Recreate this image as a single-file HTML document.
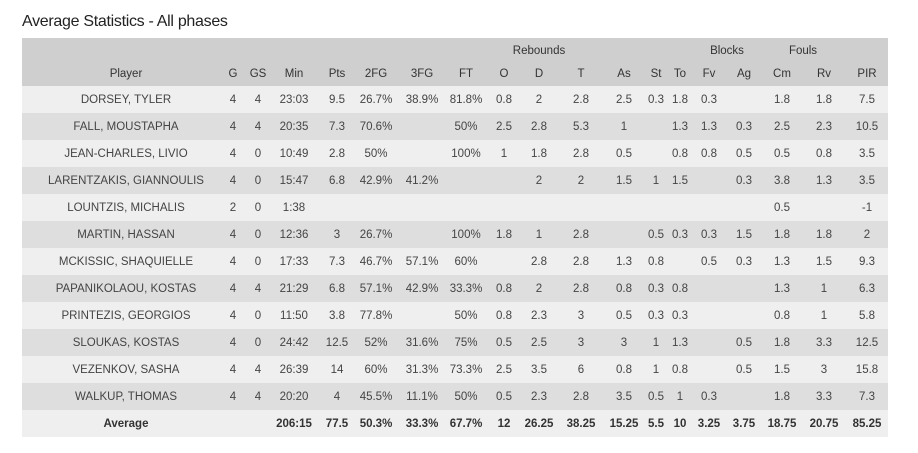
<!DOCTYPE html>
<html><head><meta charset="utf-8"><style>
*{margin:0;padding:0;box-sizing:border-box}
body{width:918px;height:453px;background:#fff;position:relative;font-family:"Liberation Sans",sans-serif;overflow:hidden}
.t{position:absolute;left:22px;top:13px;font-size:16px;color:#222;letter-spacing:-0.3px}
.r{position:absolute;left:22px;width:866px}
.c{position:absolute;width:70px;text-align:center;font-size:11.5px;color:#444;white-space:nowrap}
.h .c{color:#333}
</style></head><body>
<div class="t">Average Statistics - All phases</div>
<div id="tb"></div>
<script>
var X=[126,233,258,294,337,376,422,466,504,539,581,624,656,680,709,744,782,824,867];
var rows=[
["DORSEY, TYLER","4","4","23:03","9.5","26.7%","38.9%","81.8%","0.8","2","2.8","2.5","0.3","1.8","0.3","","1.8","1.8","7.5"],
["FALL, MOUSTAPHA","4","4","20:35","7.3","70.6%","","50%","2.5","2.8","5.3","1","","1.3","1.3","0.3","2.5","2.3","10.5"],
["JEAN-CHARLES, LIVIO","4","0","10:49","2.8","50%","","100%","1","1.8","2.8","0.5","","0.8","0.8","0.5","0.5","0.8","3.5"],
["LARENTZAKIS, GIANNOULIS","4","0","15:47","6.8","42.9%","41.2%","","","2","2","1.5","1","1.5","","0.3","3.8","1.3","3.5"],
["LOUNTZIS, MICHALIS","2","0","1:38","","","","","","","","","","","","","0.5","","-1"],
["MARTIN, HASSAN","4","0","12:36","3","26.7%","","100%","1.8","1","2.8","","0.5","0.3","0.3","1.5","1.8","1.8","2"],
["MCKISSIC, SHAQUIELLE","4","0","17:33","7.3","46.7%","57.1%","60%","","2.8","2.8","1.3","0.8","","0.5","0.3","1.3","1.5","9.3"],
["PAPANIKOLAOU, KOSTAS","4","4","21:29","6.8","57.1%","42.9%","33.3%","0.8","2","2.8","0.8","0.3","0.8","","","1.3","1","6.3"],
["PRINTEZIS, GEORGIOS","4","0","11:50","3.8","77.8%","","50%","0.8","2.3","3","0.5","0.3","0.3","","","0.8","1","5.8"],
["SLOUKAS, KOSTAS","4","0","24:42","12.5","52%","31.6%","75%","0.5","2.5","3","3","1","1.3","","0.5","1.8","3.3","12.5"],
["VEZENKOV, SASHA","4","4","26:39","14","60%","31.3%","73.3%","2.5","3.5","6","0.8","1","0.8","","0.5","1.5","3","15.8"],
["WALKUP, THOMAS","4","4","20:20","4","45.5%","11.1%","50%","0.5","2.3","2.8","3.5","0.5","1","0.3","","1.8","3.3","7.3"]];
var avg=["Average","","","206:15","77.5","50.3%","33.3%","67.7%","12","26.25","38.25","15.25","5.5","10","3.25","3.75","18.75","20.75","85.25"];
var hd=["Player","G","GS","Min","Pts","2FG","3FG","FT","O","D","T","As","St","To","Fv","Ag","Cm","Rv","PIR"];
var h='<div class="r h" style="top:38px;height:48px;background:#cfcfcf">';
[["Rebounds",539],["Blocks",727],["Fouls",803]].forEach(function(g){h+='<div class="c" style="left:'+(g[1]-22-35)+'px;top:7px">'+g[0]+'</div>'});
hd.forEach(function(v,i){h+='<div class="c" style="left:'+(X[i]-22-(i?35:100))+'px;width:'+(i?70:200)+'px;top:30px">'+v+'</div>'});
h+='</div>';
function row(r,top,bg,b){var s='<div class="r" style="top:'+top+'px;height:27px;background:'+bg+'">';
r.forEach(function(v,i){s+='<div class="c" style="left:'+(X[i]-22-(i?35:100))+'px;width:'+(i?70:200)+'px;top:8px;'+(b?'font-weight:bold;color:#333;':'')+'">'+v+'</div>'});return s+'</div>';}
rows.forEach(function(r,k){h+=row(r,86+27*k,k%2?'#dedede':'#efefef',false)});
h+=row(avg,410,'#efefef',true);
document.getElementById('tb').innerHTML=h;
</script>
</body></html>
